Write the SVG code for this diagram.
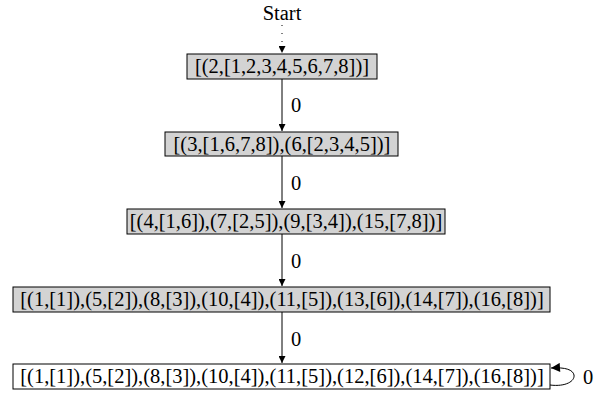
<svg xmlns="http://www.w3.org/2000/svg" width="605" height="397" viewBox="0 0 605 397">
<style>
text{font-family:"Liberation Serif","Times New Roman",serif;font-size:20.5px;fill:#000}
.n rect{stroke:#000;stroke-width:1}
.g rect{fill:#d3d3d3}
.w rect{fill:#fff}
.e{stroke:#000;stroke-width:1;fill:none}
</style>
<defs>
<marker id="av" viewBox="0 0 10 10" refX="10" refY="5" markerWidth="11" markerHeight="7" markerUnits="userSpaceOnUse" orient="auto">
<path d="M0,0 L10,5 L0,10 z" fill="#000"/>
</marker>
<marker id="ah" viewBox="0 0 10 10" refX="10" refY="5" markerWidth="13" markerHeight="9" markerUnits="userSpaceOnUse" orient="auto">
<path d="M0,0 L10,5 L0,10 z" fill="#000"/>
</marker>
</defs>
<rect width="605" height="397" fill="#fff"/>
<g id="start"><text x="282" y="20" text-anchor="middle">Start</text></g>
<g id="edges">
<line class="e" x1="282" y1="25" x2="282" y2="53" stroke-dasharray="1,7" marker-end="url(#av)"/>
<line class="e" x1="282" y1="79" x2="282" y2="131" marker-end="url(#av)"/>
<text x="296" y="112" text-anchor="middle">0</text>
<line class="e" x1="282" y1="156" x2="282" y2="208" marker-end="url(#av)"/>
<text x="296" y="190" text-anchor="middle">0</text>
<line class="e" x1="282" y1="234" x2="282" y2="286" marker-end="url(#av)"/>
<text x="296" y="268" text-anchor="middle">0</text>
<line class="e" x1="282" y1="312" x2="282" y2="363" marker-end="url(#av)"/>
<text x="296" y="346" text-anchor="middle">0</text>
<path class="e" d="M550,385 C566,387 575,381 574,375 C573,370 566,367 551,368" marker-end="url(#ah)"/>
<text x="588" y="384" text-anchor="middle">0</text>
</g>
<g id="n1" class="n g"><rect x="187" y="54" width="190" height="25"/><text x="282" y="73" text-anchor="middle">[(2,[1,2,3,4,5,6,7,8])]</text></g>
<g id="n2" class="n g"><rect x="165" y="132" width="233" height="24"/><text x="282" y="151" text-anchor="middle">[(3,[1,6,7,8]),(6,[2,3,4,5])]</text></g>
<g id="n3" class="n g"><rect x="127" y="209" width="318" height="25"/><text x="286" y="228" text-anchor="middle">[(4,[1,6]),(7,[2,5]),(9,[3,4]),(15,[7,8])]</text></g>
<g id="n4" class="n g"><rect x="13" y="287" width="537" height="25"/><text x="282" y="306" text-anchor="middle">[(1,[1]),(5,[2]),(8,[3]),(10,[4]),(11,[5]),(13,[6]),(14,[7]),(16,[8])]</text></g>
<g id="n5" class="n w"><rect x="13" y="364" width="537" height="25"/><text x="282" y="383" text-anchor="middle">[(1,[1]),(5,[2]),(8,[3]),(10,[4]),(11,[5]),(12,[6]),(14,[7]),(16,[8])]</text></g>
</svg>
